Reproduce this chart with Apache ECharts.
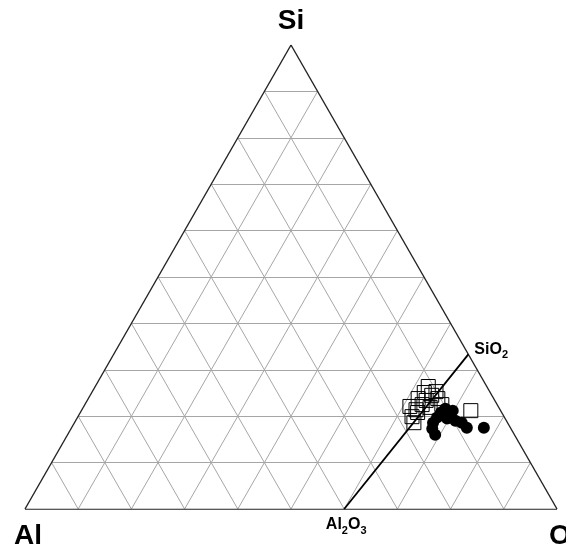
<!DOCTYPE html>
<html>
<head>
<meta charset="utf-8">
<script src="https://cdn.jsdelivr.net/npm/echarts@6/dist/echarts.min.js"></script>
<style>
  html, body { margin: 0; padding: 0; background: #fff; }
  #chart { width: 566px; height: 548px; }
</style>
</head>
<body>
<div id="chart"></div>
<script>
// Ternary diagram Si – Al – O (atomic %), drawn on a hidden cartesian grid.
const vertexNames = ['Si', 'Al', 'O'];            // top, bottom-left, bottom-right
const gridSteps = [10, 20, 30, 40, 50, 60, 70, 80, 90];

// Compositions as [Si, Al, O]
const filledCircles = [
  [21.6, 10.2, 68.2], [21.2, 9.0, 69.8], [19.7, 12.7, 67.6], [18.6, 14.0, 67.4],
  [17.3, 14.8, 67.9], [16.0, 14.9, 69.1], [19.5, 10.9, 69.6], [19.0, 9.6, 71.4],
  [18.6, 8.6, 72.8], [17.5, 8.2, 74.3], [17.5, 5.0, 77.5], [20.6, 9.8, 69.6],
  [20.8, 11.4, 67.8]
];
const openSquares = [
  [26.4, 11.0, 62.6], [25.3, 10.1, 64.6], [24.5, 11.3, 64.2], [23.8, 14.2, 62.0],
  [23.4, 12.9, 63.7], [23.8, 10.5, 65.7], [22.1, 16.6, 61.3], [21.4, 15.8, 62.8],
  [21.9, 12.9, 65.2], [22.5, 14.1, 63.4], [19.9, 17.3, 62.8], [18.6, 17.6, 63.8],
  [20.8, 15.8, 63.4], [22.5, 10.4, 67.1], [21.2, 5.6, 73.2], [25.1, 12.4, 62.5]
];

// Reference compounds as stoichiometry [Si, Al, O]
const compoundNames = ['Al2O3', 'SiO2'];
const compoundComps = [[0, 2, 3], [1, 0, 2]];

// Ternary -> cartesian: x runs Al (0) to O (1), y is the Si fraction
function toXY(c) {
  const s = c[0] + c[1] + c[2];
  const si = c[0] / s, o = c[2] / s;
  return [o + si / 2, si];
}

// Grid lines of constant Si, Al and O
const gridLines = [];
gridSteps.forEach(function (p) {
  gridLines.push({ coords: [toXY([p, 100 - p, 0]), toXY([p, 0, 100 - p])] });
  gridLines.push({ coords: [toXY([0, 100 - p, p]), toXY([100 - p, 0, p])] });
  gridLines.push({ coords: [toXY([0, p, 100 - p]), toXY([100 - p, p, 0])] });
});

const outline = [
  { coords: [toXY([100, 0, 0]), toXY([0, 100, 0])] },
  { coords: [toXY([0, 100, 0]), toXY([0, 0, 100])] },
  { coords: [toXY([0, 0, 100]), toXY([100, 0, 0])] }
];

const tieLine = [{ coords: [toXY(compoundComps[0]), toXY(compoundComps[1])] }];

const vertexComps = [[100, 0, 0], [0, 100, 0], [0, 0, 100]];
const vertexOffsets = [[0, -24], [3, 27], [3, 27]];

const chart = echarts.init(document.getElementById('chart'), null, { renderer: 'canvas' });

const subRich = {
  a: { fontFamily: 'Liberation Sans, Arial', fontWeight: 'bold', fontSize: 16, color: '#000', lineHeight: 22, verticalAlign: 'middle' },
  b: { fontFamily: 'Liberation Sans, Arial', fontWeight: 'bold', fontSize: 11, color: '#000', lineHeight: 22, verticalAlign: 'bottom' }
};

function formula(name) {
  // turn digits into subscript tokens
  return name.replace(/([A-Za-z]+)(\d*)/g, function (m, el, n) {
    return '{a|' + el + '}' + (n ? '{b|' + n + '}' : '');
  });
}

chart.setOption({
  animation: false,
  backgroundColor: '#fff',
  grid: { left: 25, right: 9, top: 45, bottom: 39 },
  xAxis: { type: 'value', min: 0, max: 1, show: false },
  yAxis: { type: 'value', min: 0, max: 1, show: false },
  series: [
    {
      type: 'lines', coordinateSystem: 'cartesian2d', silent: true,
      lineStyle: { color: '#a6a6a6', width: 1, opacity: 1 },
      data: gridLines, z: 1
    },
    {
      type: 'lines', coordinateSystem: 'cartesian2d', silent: true,
      lineStyle: { color: '#222', width: 1.4, opacity: 1 },
      data: outline, z: 2
    },
    {
      type: 'lines', coordinateSystem: 'cartesian2d', silent: true,
      lineStyle: { color: '#000', width: 1.8, opacity: 1 },
      data: tieLine, z: 3
    },
    {
      type: 'scatter', silent: true, symbol: 'circle', symbolSize: 12,
      itemStyle: { color: '#000', opacity: 1 },
      data: filledCircles.map(toXY), z: 4
    },
    {
      type: 'scatter', silent: true, symbol: 'rect', symbolSize: 14,
      itemStyle: { color: 'rgba(0,0,0,0)', borderColor: '#000', borderWidth: 1, opacity: 1 },
      data: openSquares.map(toXY), z: 5
    },
    {
      // vertex labels
      type: 'scatter', silent: true, symbolSize: 0, z: 6,
      itemStyle: { opacity: 1, color: '#000' },
      data: vertexComps.map(function (c, i) {
        return {
          value: toXY(c),
          label: {
            show: true, formatter: vertexNames[i], position: 'inside',
            offset: vertexOffsets[i], textBorderWidth: 0, opacity: 1,
            fontFamily: 'Liberation Sans, Arial', fontWeight: 'bold', fontSize: 28, color: '#000'
          }
        };
      })
    },
    {
      // compound labels
      type: 'scatter', silent: true, symbolSize: 0, z: 6,
      itemStyle: { opacity: 1, color: '#000' },
      data: [
        {
          value: toXY(compoundComps[0]),
          label: { show: true, position: 'inside', offset: [2, 16], textBorderWidth: 0, formatter: formula(compoundNames[0]), rich: subRich }
        },
        {
          value: toXY(compoundComps[1]),
          label: { show: true, position: 'right', distance: 6, offset: [0, -5], textBorderWidth: 0, formatter: formula(compoundNames[1]), rich: subRich }
        }
      ]
    }
  ]
});
</script>
</body>
</html>
